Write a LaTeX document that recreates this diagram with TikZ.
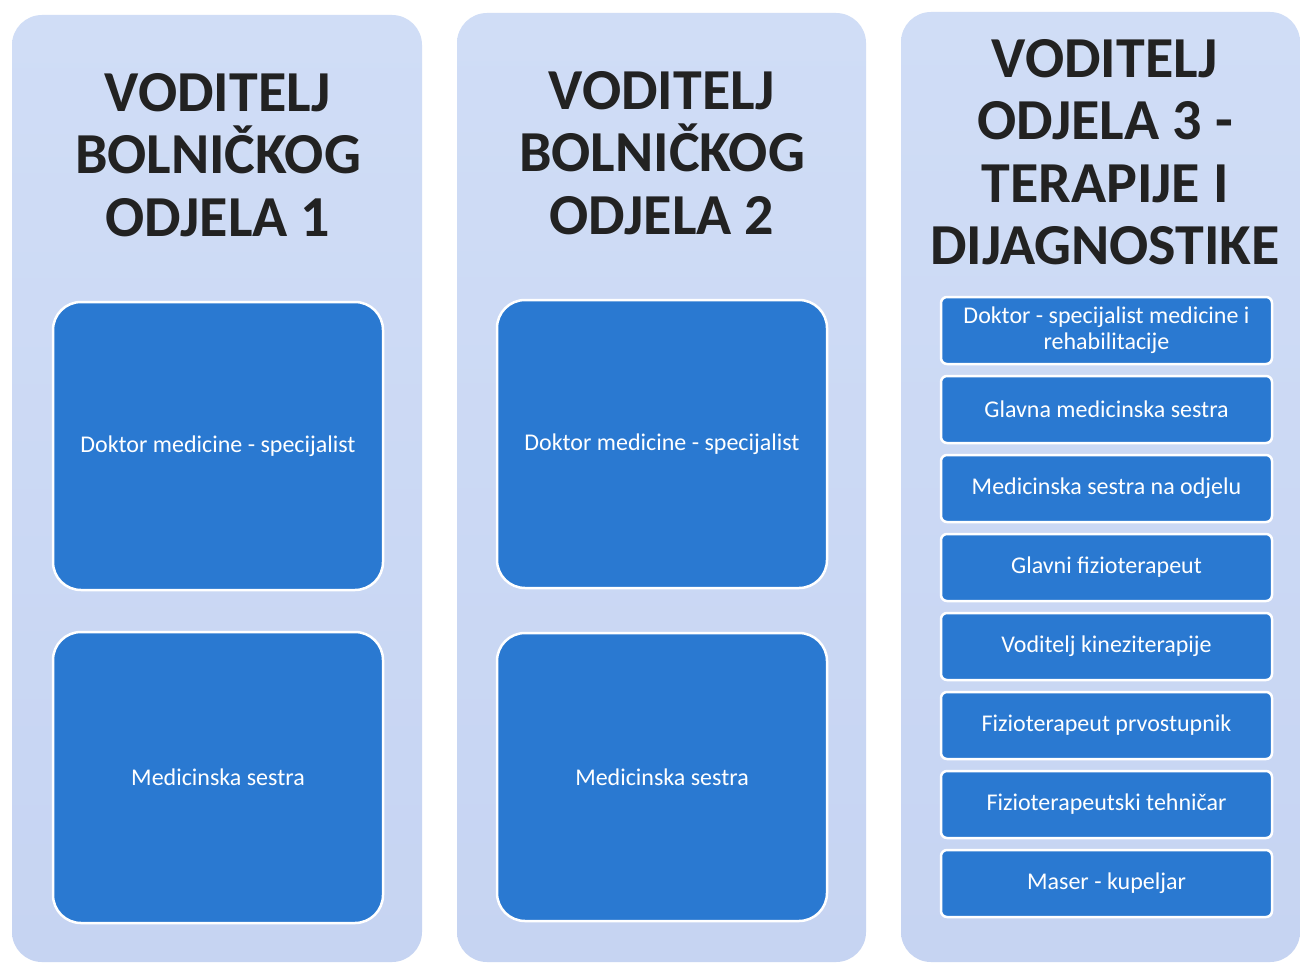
\documentclass[tikz,border=0pt]{standalone}
\usepackage{fontspec}
\setmainfont{Carlito}
\definecolor{colbg}{RGB}{198,212,242}
\definecolor{colbgtop}{RGB}{208,221,246}
\definecolor{boxblue}{RGB}{42,121,209}
\definecolor{titlecol}{RGB}{34,34,34}
\tikzset{
  column/.style={rectangle, rounded corners=30pt, top color=colbgtop, bottom color=colbg, draw=none, inner sep=0pt},
  bigbox/.style={rectangle, rounded corners=28pt, fill=boxblue, draw=white, line width=2.5pt, minimum width=330pt, text=white, font=\fontsize{24}{28}\selectfont, inner sep=0pt},
  smallbox/.style={rectangle, rounded corners=6pt, fill=boxblue, draw=white, line width=2.5pt, minimum width=331pt, minimum height=67pt, text=white, font=\fontsize{24}{26}\selectfont, align=center, inner sep=0pt},
  title/.style={font=\fontsize{58}{62.5}\selectfont\bfseries, text=titlecol, align=center, inner sep=0pt}
}
\begin{document}
\begin{tikzpicture}[x=1pt,y=-1pt]
\useasboundingbox[fill=white] (0,0) rectangle (1300,963);
% columns
\node[column, minimum width=410pt, minimum height=947pt] (c1) at (217,488.5) {};
\node[column, minimum width=409pt, minimum height=949pt] (c2) at (661.5,487.5) {};
\node[column, minimum width=399pt, minimum height=950pt] (c3) at (1100.5,487) {};
% titles
\node[title] (t1) at (218,155) {VODITELJ\\BOLNIČKOG\\ODJELA 1};
\node[title] (t2) at (662,153) {VODITELJ\\BOLNIČKOG\\ODJELA 2};
\node[title] (t3) at (1105,152) {VODITELJ\\ODJELA 3 -\\TERAPIJE I\\DIJAGNOSTIKE};
% column 1
\node[bigbox, minimum height=288pt] (a1) at (218,446) {Doktor medicine - specijalist};
\node[bigbox, minimum height=291pt] (a2) at (218,777.5) {Medicinska sestra};
% column 2
\node[bigbox, minimum height=288pt] (b1) at (662,444) {Doktor medicine - specijalist};
\node[bigbox, minimum height=288pt] (b2) at (662,777) {Medicinska sestra};
% column 3
\node[smallbox] (d1) at (1106.5,330.5) {Doktor - specijalist medicine i\\rehabilitacije};
\node[smallbox] (d2) at (1106.5,409.5) {Glavna medicinska sestra};
\node[smallbox] (d3) at (1106.5,488.5) {Medicinska sestra na odjelu};
\node[smallbox] (d4) at (1106.5,567.5) {Glavni fizioterapeut};
\node[smallbox] (d5) at (1106.5,646.5) {Voditelj kineziterapije};
\node[smallbox] (d6) at (1106.5,725.5) {Fizioterapeut prvostupnik};
\node[smallbox] (d7) at (1106.5,804.5) {Fizioterapeutski tehničar};
\node[smallbox] (d8) at (1106.5,883.5) {Maser - kupeljar};
\end{tikzpicture}
\end{document}
